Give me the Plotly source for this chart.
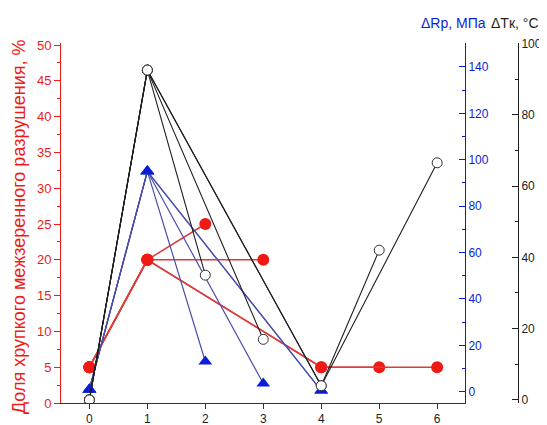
import plotly.graph_objects as go

# --- data ---
conditions = [0, 1, 2, 3, 4, 5, 6]
brittle_pct = [5, 20, 25, 20, 5, 5, 5]               # left axis, %
delta_rp = [1, 95, 13, 3.5, 0.5, None, None]       # blue axis, MPa
delta_tk = [0, 92.5, 35, 17, 4, 42, 66.5]           # black axis, °C
# each test path through the conditions (indices into the arrays above)
paths = [[0, 1, 2], [0, 1, 3], [0, 1, 4, 5], [0, 1, 4, 6]]

left_title = "Доля хрупкого межзеренного разрушения, %"
rp_title = "ΔRp, МПа"
tk_title = "ΔTк, °C"

RED = "#f01a14"
RED_LINE = "#dd3b3b"
BLUE = "#0a1ed8"
BLUE_LINE = "#4a4ea8"
BLACK = "#1e1e1e"
FONT = "Arial, Liberation Sans, sans-serif"

fig = go.Figure()

def path_xy(values, p):
    xs, ys = [], []
    for i in p:
        if values[i] is not None:
            xs.append(conditions[i])
            ys.append(values[i])
    return xs, ys

for p in paths:
    xs, ys = path_xy(brittle_pct, p)
    fig.add_trace(go.Scatter(x=xs, y=ys, yaxis="y", mode="lines+markers",
                             line=dict(color=RED_LINE, width=1.5),
                             marker=dict(symbol="circle", size=12, color=RED)))
for p in paths:
    xs, ys = path_xy(delta_rp, p)
    fig.add_trace(go.Scatter(x=xs, y=ys, yaxis="y2", mode="lines+markers",
                             line=dict(color=BLUE_LINE, width=1.2),
                             marker=dict(symbol="triangle-up", size=12, color=BLUE)))
for p in paths:
    xs, ys = path_xy(delta_tk, p)
    fig.add_trace(go.Scatter(x=xs, y=ys, yaxis="y3", mode="lines+markers",
                             line=dict(color=BLACK, width=1.1),
                             marker=dict(symbol="circle", size=10, color="white",
                                         line=dict(color="#333333", width=1))))

fig.update_layout(
    width=547, height=425,
    margin=dict(l=53, r=37, t=35, b=30),
    paper_bgcolor="white", plot_bgcolor="white",
    showlegend=False,
    font=dict(family=FONT, size=12, color=BLACK),
    xaxis=dict(domain=[0, 0.884], range=[-0.49, 6.48], tickvals=conditions,
               showgrid=False, zeroline=False, showline=True, linecolor="#333333",
               linewidth=1, ticks="outside", ticklen=5, tickcolor="#333333",
               tickfont=dict(size=12, color=BLACK), automargin=False),
    yaxis=dict(range=[0, 50.28], dtick=5, tick0=0, showgrid=False, zeroline=False,
               showline=True, linecolor=RED, linewidth=1, ticks="outside",
               ticklen=6, tickcolor=RED, tickfont=dict(size=13, color=RED),
               minor=dict(ticks="outside", ticklen=3, dtick=2.5, tickcolor=RED),
               automargin=False),
    yaxis2=dict(overlaying="y", side="right", anchor="x", range=[-4.87, 150.3],
                tickvals=[0, 20, 40, 60, 80, 100, 120, 140], showgrid=False,
                zeroline=False, showline=True, linecolor=BLUE, linewidth=1,
                ticks="inside", ticklen=6, tickcolor=BLUE,
                tickfont=dict(size=12, color=BLUE),
                minor=dict(ticks="inside", ticklen=3, dtick=10, tickcolor=BLUE),
                automargin=False),
    yaxis3=dict(overlaying="y", side="right", anchor="free", position=1.0,
                range=[-0.85, 100.1], dtick=20, tick0=0, showgrid=False,
                zeroline=False, showline=True, linecolor=BLACK, linewidth=1,
                ticks="inside", ticklen=6, tickcolor=BLACK,
                tickfont=dict(size=12, color=BLACK),
                minor=dict(ticks="inside", ticklen=3, dtick=10, tickcolor=BLACK),
                automargin=False),
    annotations=[
        dict(text=left_title, xref="paper", yref="paper", x=-0.093, y=0.49,
             xanchor="center", yanchor="middle", textangle=-90, showarrow=False,
             font=dict(size=18, color=RED, family=FONT)),
        dict(text=rp_title, xref="paper", yref="paper", x=0.858, y=1.055,
             xanchor="center", yanchor="middle", showarrow=False,
             font=dict(size=14, color=BLUE, family=FONT)),
        dict(text=tk_title, xref="paper", yref="paper", x=0.994, y=1.055,
             xanchor="center", yanchor="middle", showarrow=False,
             font=dict(size=14, color=BLACK, family=FONT)),
    ],
)

fig.write_html("out.html")
